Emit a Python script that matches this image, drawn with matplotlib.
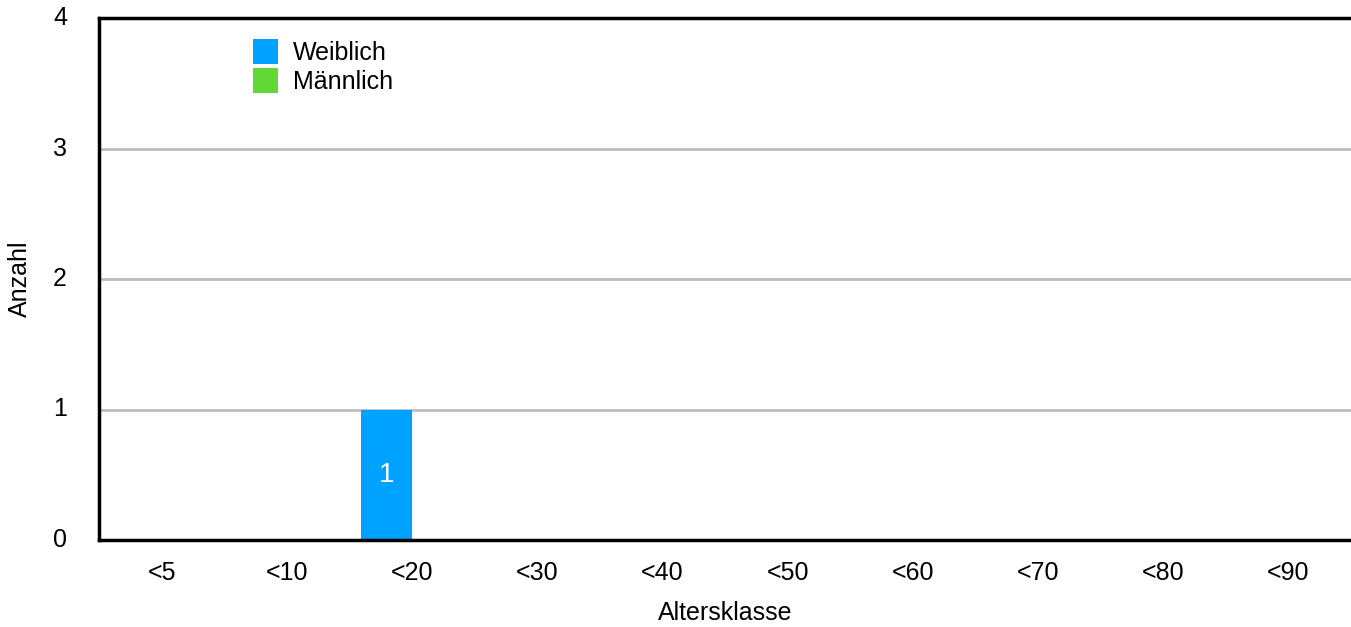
import matplotlib
matplotlib.use("Agg")
import matplotlib.pyplot as plt
import numpy as np

categories = ["<5", "<10", "<20", "<30", "<40", "<50", "<60", "<70", "<80", "<90"]
weiblich = [0, 0, 1, 0, 0, 0, 0, 0, 0, 0]
maennlich = [0, 0, 0, 0, 0, 0, 0, 0, 0, 0]
yticks = [0, 1, 2, 3, 4]

plt.rcParams['font.family'] = ['Liberation Sans', 'DejaVu Sans']

W, H = 1351, 627
FS = 18
fig = plt.figure(figsize=(W / 100, H / 100), dpi=100)
ax = fig.add_axes([99 / W, 1 - 540 / H, (1351 - 99) / W, (540 - 18) / H])

x = np.arange(len(categories))
bw = 0.41
b1 = ax.bar(x - bw / 2, weiblich, bw, color="#00a2ff", label="Weiblich", zorder=3)
b2 = ax.bar(x + bw / 2, maennlich, bw, color="#61d836", label="Männlich", zorder=3)

for bars, vals in ((b1, weiblich), (b2, maennlich)):
    for rect, v in zip(bars, vals):
        if v > 0:
            ax.text(rect.get_x() + rect.get_width() / 2, v / 2, str(v), ha="center", va="center",
                    color="white", fontsize=20, zorder=4)

ax.set_xlim(-0.5, len(categories) - 0.5)
ax.set_ylim(0, 4)
ax.set_yticks(yticks)
ax.set_xticks(x)
ax.set_xticklabels(categories)
ax.tick_params(axis="both", length=0, labelsize=FS, colors="black")
ax.tick_params(axis="x", pad=15)
ax.tick_params(axis="y", pad=23)
for lbl in ax.get_yticklabels():
    lbl.set_verticalalignment("center")

for yv in yticks[1:-1]:
    ax.axhline(yv, color="#bdbdbd", lw=2, zorder=1)
ax.axhline(4, color="black", lw=2.5, zorder=2, clip_on=False)

ax.spines["right"].set_visible(False)
ax.spines["top"].set_visible(False)
ax.spines["left"].set_linewidth(2.5)
ax.spines["bottom"].set_linewidth(2.5)
ax.spines["left"].set_zorder(5)
ax.spines["bottom"].set_zorder(5)

ax.set_xlabel("Altersklasse", fontsize=FS, labelpad=12)
ax.set_ylabel("Anzahl", fontsize=FS, labelpad=15)

leg = ax.legend(loc="upper left", bbox_to_anchor=(154 / 1252, 1 - 21 / 522), frameon=False,
                fontsize=FS, handlelength=1.0, handleheight=1.15, handletextpad=0.6,
                labelspacing=0.12, borderaxespad=0, borderpad=0)

fig.savefig("out.png", dpi=100)
